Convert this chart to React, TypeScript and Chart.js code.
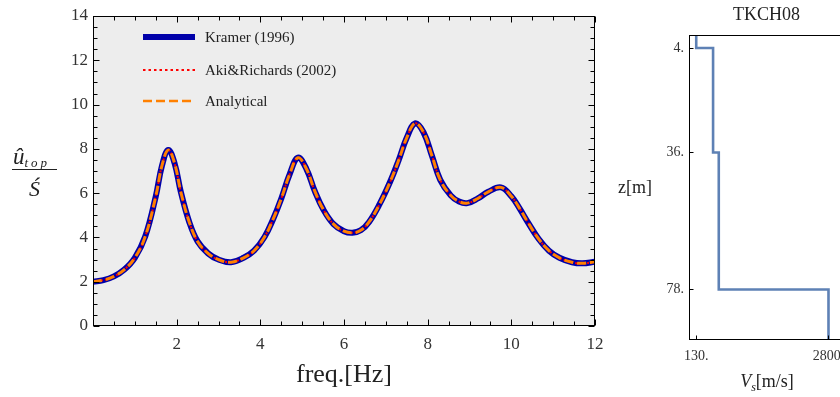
import React, { useEffect, useRef } from 'react';
import { Chart, registerables } from 'chart.js';

Chart.register(...registerables);

// ---------- Left panel: transfer function ----------
const freqHz = [0, 0.25, 0.5, 0.75, 1.0, 1.25, 1.5, 1.65, 1.8, 1.95, 2.1, 2.3, 2.5, 2.75, 3.0, 3.3, 3.6, 3.85, 4.1, 4.3, 4.5, 4.7, 4.9, 5.1, 5.3, 5.5, 5.75, 6.0, 6.2, 6.4, 6.6, 6.85, 7.1, 7.3, 7.5, 7.7, 7.9, 8.1, 8.3, 8.55, 8.75, 8.95, 9.2, 9.45, 9.75, 10.0, 10.2, 10.4, 10.65, 10.9, 11.15, 11.45, 11.7, 12.0];
const kramer1996 = [2.0, 2.07, 2.24, 2.55, 3.08, 4.05, 5.85, 7.25, 7.95, 7.35, 6.05, 4.7, 3.82, 3.28, 3.0, 2.88, 3.08, 3.4, 4.02, 4.8, 5.75, 6.85, 7.6, 7.1, 6.1, 5.28, 4.6, 4.28, 4.21, 4.32, 4.7, 5.5, 6.5, 7.45, 8.5, 9.15, 8.75, 7.7, 6.6, 5.9, 5.62, 5.55, 5.76, 6.06, 6.26, 5.86, 5.3, 4.67, 3.94, 3.4, 3.08, 2.88, 2.83, 2.9];
const akiRichards2002 = [2.0, 2.07, 2.24, 2.55, 3.08, 4.05, 5.85, 7.25, 7.95, 7.35, 6.05, 4.7, 3.82, 3.28, 3.0, 2.88, 3.08, 3.4, 4.02, 4.8, 5.75, 6.85, 7.6, 7.1, 6.1, 5.28, 4.6, 4.28, 4.21, 4.32, 4.7, 5.5, 6.5, 7.45, 8.5, 9.15, 8.75, 7.7, 6.6, 5.9, 5.62, 5.55, 5.76, 6.06, 6.26, 5.86, 5.3, 4.67, 3.94, 3.4, 3.08, 2.88, 2.83, 2.9];
const analytical = [2.0, 2.07, 2.24, 2.55, 3.08, 4.05, 5.85, 7.25, 7.95, 7.35, 6.05, 4.7, 3.82, 3.28, 3.0, 2.88, 3.08, 3.4, 4.02, 4.8, 5.75, 6.85, 7.6, 7.1, 6.1, 5.28, 4.6, 4.28, 4.21, 4.32, 4.7, 5.5, 6.5, 7.45, 8.5, 9.15, 8.75, 7.7, 6.6, 5.9, 5.62, 5.55, 5.76, 6.06, 6.26, 5.86, 5.3, 4.67, 3.94, 3.4, 3.08, 2.88, 2.83, 2.9];
const seriesLabels = ['Kramer (1996)', 'Aki&Richards (2002)', 'Analytical'];
const freqTicks = [2, 4, 6, 8, 10, 12];
const ampTicks = [0, 2, 4, 6, 8, 10, 12, 14];
const xAxisTitle = 'freq.[Hz]';

// ---------- Right panel: Vs profile ----------
const profileTitle = 'TKCH08';
const layerTopDepth = [0, 4, 36, 78];
const profileBottomDepth = 93.5;
const layerVs = [130, 470, 585, 2800];
const depthTicks = [4, 36, 78];
const vsTicks = [130, 2800];

const SERIF = "'Liberation Serif', 'DejaVu Serif', serif";
const COL_KRAMER = '#0000aa';
const COL_AKI = '#ff0000';
const COL_ANA = '#ff8000';
const COL_PROFILE = '#5e81b5';

const framePlugin = {
  id: 'frame',
  beforeDraw(chart: any, _args: any, opts: any) {
    if (!opts || !opts.bg) return;
    const { ctx, chartArea: a } = chart;
    ctx.save();
    ctx.fillStyle = opts.bg;
    ctx.fillRect(a.left, a.top, a.right - a.left, a.bottom - a.top);
    ctx.restore();
  },
  afterDraw(chart: any, _args: any, opts: any) {
    if (!opts) return;
    const { ctx, chartArea: a } = chart;
    const L = Math.round(a.left) + 0.5;
    const R = Math.round(a.right) - 0.5;
    const T = Math.round(a.top) + 0.5;
    const B = Math.round(a.bottom) - 0.5;
    ctx.save();
    ctx.strokeStyle = '#000';
    ctx.lineWidth = 1;
    ctx.strokeRect(L, T, R - L, B - T);
    const xs = chart.scales.x;
    const ys = chart.scales.y;
    const line = (x1: number, y1: number, x2: number, y2: number) => {
      ctx.beginPath();
      ctx.moveTo(x1, y1);
      ctx.lineTo(x2, y2);
      ctx.stroke();
    };
    const tickSet = (scale: any, step: number) => {
      const majors = scale.ticks.map((t: any) => t.value);
      const minors: number[] = [];
      if (step > 0) {
        for (let v = scale.min; v <= scale.max + 1e-9; v += step) {
          if (!majors.some((m: number) => Math.abs(m - v) < 1e-6)) minors.push(v);
        }
      }
      return { majors, minors };
    };
    const xt = tickSet(xs, opts.xMinor || 0);
    const yt = tickSet(ys, opts.yMinor || 0);
    const sides: string[] = opts.sides || ['left', 'bottom'];
    const drawX = (vals: number[], len: number) => {
      vals.forEach((v) => {
        const p = Math.round(xs.getPixelForValue(v)) + 0.5;
        if (sides.includes('bottom')) line(p, B, p, B - len);
        if (sides.includes('top')) line(p, T, p, T + len);
      });
    };
    const drawY = (vals: number[], len: number) => {
      vals.forEach((v) => {
        const p = Math.round(ys.getPixelForValue(v)) + 0.5;
        if (sides.includes('left')) line(L, p, L + len, p);
        if (sides.includes('right')) line(R, p, R - len, p);
      });
    };
    drawX(xt.majors, opts.major);
    drawX(xt.minors, opts.minor);
    drawY(yt.majors, opts.major);
    drawY(yt.minors, opts.minor);
    ctx.restore();
  },
};

function TransferChart() {
  const ref = useRef<HTMLCanvasElement | null>(null);
  useEffect(() => {
    if (!ref.current) return;
    const mk = (vals: number[]) => freqHz.map((f, i) => ({ x: f, y: vals[i] }));
    const common = { pointRadius: 0, tension: 0.4, fill: false };
    const chart = new Chart(ref.current, {
      type: 'line',
      data: {
        datasets: [
          { label: seriesLabels[0], data: mk(kramer1996), borderColor: COL_KRAMER, borderWidth: 6, order: 3, ...common },
          { label: seriesLabels[1], data: mk(akiRichards2002), borderColor: COL_AKI, borderWidth: 2, borderDash: [2, 2], order: 2, ...common },
          { label: seriesLabels[2], data: mk(analytical), borderColor: COL_ANA, borderWidth: 3, borderDash: [9, 4], order: 1, ...common },
        ] as any,
      },
      options: {
        animation: false,
        responsive: false,
        maintainAspectRatio: false,
        layout: { padding: { left: 0, right: 25, top: 16, bottom: 0 } },
        plugins: {
          legend: { display: false },
          tooltip: { enabled: false },
          frame: { bg: '#ededed', xMinor: 0.5, yMinor: 0.5, major: 6, minor: 4, sides: ['left', 'right', 'top', 'bottom'] },
        } as any,
        scales: {
          x: {
            type: 'linear',
            min: 0,
            max: 12,
            afterBuildTicks: (s: any) => { s.ticks = freqTicks.map((v) => ({ value: v })); },
            afterFit: (s: any) => { s.height = 71; },
            grid: { display: false, drawTicks: false },
            border: { display: false },
            ticks: { padding: 8, color: '#333', font: { family: SERIF, size: 17 }, maxRotation: 0, autoSkip: false },
            title: { display: true, text: xAxisTitle, color: '#222', font: { family: SERIF, size: 26 }, padding: { top: 0, bottom: 6 } },
          },
          y: {
            type: 'linear',
            min: 0,
            max: 14,
            afterBuildTicks: (s: any) => { s.ticks = ampTicks.map((v) => ({ value: v })); },
            afterFit: (s: any) => { s.width = 93; },
            grid: { display: false, drawTicks: false },
            border: { display: false },
            ticks: { padding: 5, color: '#333', font: { family: SERIF, size: 17 }, autoSkip: false },
          },
        },
      } as any,
      plugins: [framePlugin],
    });
    return () => chart.destroy();
  }, []);
  return <canvas ref={ref} width={620} height={397} style={{ position: 'absolute', left: 0, top: 0, width: 620, height: 397 }} />;
}

function ProfileChart() {
  const ref = useRef<HTMLCanvasElement | null>(null);
  useEffect(() => {
    if (!ref.current) return;
    const pts: { x: number; y: number }[] = [];
    layerVs.forEach((vs, i) => {
      const top = layerTopDepth[i];
      const bottom = i + 1 < layerTopDepth.length ? layerTopDepth[i + 1] : profileBottomDepth;
      pts.push({ x: vs, y: top }, { x: vs, y: bottom });
    });
    const chart = new Chart(ref.current, {
      type: 'line',
      data: {
        datasets: [{ data: pts, borderColor: COL_PROFILE, borderWidth: 2.6, pointRadius: 0, tension: 0, fill: false }] as any,
      },
      options: {
        animation: false,
        responsive: false,
        maintainAspectRatio: false,
        layout: { padding: { left: 0, right: 16, top: 0, bottom: 0 } },
        plugins: {
          legend: { display: false },
          tooltip: { enabled: false },
          title: { display: true, text: profileTitle, fullSize: false, color: '#222', font: { family: SERIF, size: 18, weight: 'normal' }, padding: { top: 4, bottom: 9.4 } },
          frame: { major: 4, minor: 0, sides: ['left', 'bottom'] },
        } as any,
        scales: {
          x: {
            type: 'linear',
            min: -16,
            max: 3113,
            afterBuildTicks: (s: any) => { s.ticks = vsTicks.map((v) => ({ value: v })); },
            afterFit: (s: any) => { s.height = 57; },
            grid: { display: false, drawTicks: false },
            border: { display: false },
            ticks: { padding: 8, color: '#333', font: { family: SERIF, size: 14 }, maxRotation: 0, autoSkip: false, callback: (v: any) => `${v}.` },
          },
          y: {
            type: 'linear',
            reverse: true,
            min: 0,
            max: profileBottomDepth,
            afterBuildTicks: (s: any) => { s.ticks = depthTicks.map((v) => ({ value: v })); },
            afterFit: (s: any) => { s.width = 79; },
            grid: { display: false, drawTicks: false },
            border: { display: false },
            ticks: { padding: 5, color: '#333', font: { family: SERIF, size: 14 }, autoSkip: false, callback: (v: any) => `${v}.` },
          },
        },
      } as any,
      plugins: [framePlugin],
    });
    return () => chart.destroy();
  }, []);
  return <canvas ref={ref} width={250} height={397} style={{ position: 'absolute', left: 610, top: 0, width: 250, height: 397 }} />;
}

function LegendSample({ kind }: { kind: number }) {
  if (kind === 0) return <svg width={52} height={10}><line x1={0} y1={5} x2={52} y2={5} stroke={COL_KRAMER} strokeWidth={6} /></svg>;
  if (kind === 1) return <svg width={52} height={10}><line x1={0} y1={5} x2={52} y2={5} stroke={COL_AKI} strokeWidth={2.2} strokeDasharray="2.5 3" /></svg>;
  return <svg width={52} height={10}><line x1={0} y1={5} x2={52} y2={5} stroke={COL_ANA} strokeWidth={2.5} strokeDasharray="9 4" /></svg>;
}

export default function App() {
  const legendRows = [37, 70, 101];
  return (
    <div style={{ position: 'absolute', left: 0, top: 0, width: 840, height: 397, overflow: 'hidden', background: '#fff' }}>
      <TransferChart />
      <ProfileChart />
      {seriesLabels.map((lab, i) => (
        <div key={lab} style={{ position: 'absolute', left: 143, top: legendRows[i] - 10, height: 20, display: 'flex', alignItems: 'center', fontFamily: SERIF, fontSize: 15, color: '#222', whiteSpace: 'nowrap' }}>
          <LegendSample kind={i} />
          <span style={{ marginLeft: 10 }}>{lab}</span>
        </div>
      ))}
      {/* y-axis fraction label */}
      <div style={{ position: 'absolute', left: 13, top: 145, fontFamily: SERIF, fontStyle: 'italic', fontSize: 23, lineHeight: '24px', color: '#222', whiteSpace: 'nowrap' }}>
        û<span style={{ fontSize: 13, letterSpacing: 3, position: 'relative', top: 3 }}>top</span>
      </div>
      <div style={{ position: 'absolute', left: 12, top: 169, width: 45, height: 0, borderTop: '1.3px solid #222' }} />
      <div style={{ position: 'absolute', left: 12, top: 177, width: 45, textAlign: 'center', fontFamily: SERIF, fontStyle: 'italic', fontSize: 22, lineHeight: '24px', color: '#222' }}>Ś</div>
      {/* profile axis labels */}
      <div style={{ position: 'absolute', left: 618, top: 177, fontFamily: SERIF, fontSize: 18, lineHeight: '20px', color: '#222' }}>z[m]</div>
      <div style={{ position: 'absolute', left: 717, top: 371, width: 100, textAlign: 'center', fontFamily: SERIF, fontSize: 18, lineHeight: '20px', color: '#222', whiteSpace: 'nowrap' }}>
        <i>V</i><sub style={{ fontSize: 12, fontStyle: 'italic', verticalAlign: 'baseline', position: 'relative', top: 4 }}>s</sub>[m/s]
      </div>
    </div>
  );
}
